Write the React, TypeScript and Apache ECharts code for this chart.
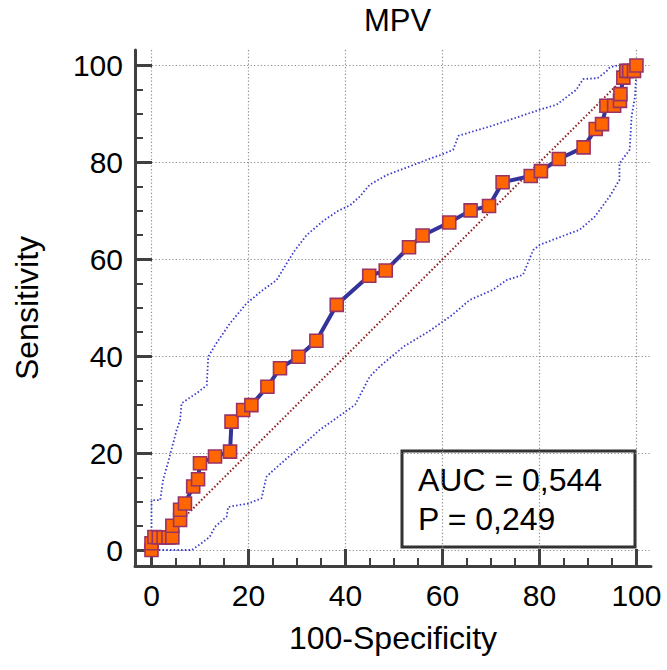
import React, { useEffect, useRef } from "react";
import * as echarts from "echarts";

const TITLE = "MPV";
const X_NAME = "100-Specificity";
const Y_NAME = "Sensitivity";
const MAJOR_TICKS = [0, 20, 40, 60, 80, 100];
const MINOR_TICKS = [5, 10, 15, 25, 30, 35, 45, 50, 55, 65, 70, 75, 85, 90, 95];
const AUC_TEXT = "AUC = 0,544";
const P_TEXT = "P = 0,249";

const rocX = [0, 0, 0.6, 1.5, 2.5, 3.5, 4.3, 4.3, 5.9, 5.9, 6.9, 8.6, 9.6, 10.0, 13.1, 16.2, 16.5, 18.9, 20.6, 23.9, 26.5, 30.3, 34.0, 38.2, 44.9, 48.3, 53.1, 55.9, 61.4, 65.8, 69.6, 72.4, 78.2, 80.3, 84.0, 89.1, 91.6, 92.9, 93.8, 95.4, 96.6, 96.7, 97.3, 97.9, 98.5, 99.5, 100];
const rocY = [0, 1.4, 2.7, 2.6, 2.6, 2.6, 2.6, 5.0, 6.2, 8.3, 9.6, 13.1, 14.6, 17.9, 19.3, 20.3, 26.5, 28.9, 29.9, 33.7, 37.5, 39.9, 43.2, 50.6, 56.6, 57.7, 62.5, 64.9, 67.6, 70.1, 71.0, 75.9, 77.2, 78.2, 80.7, 83.1, 86.9, 87.9, 91.7, 91.7, 92.7, 94.1, 97.5, 98.9, 98.9, 98.9, 100];

const upperX = [0, 0, 1.8, 2.4, 3.4, 5.2, 5.9, 6.2, 9.5, 11.4, 11.7, 13.4, 16.2, 19.6, 23.0, 25.8, 27.9, 29.6, 32, 35.5, 38.5, 41, 43, 45, 48.5, 53.3, 56.7, 59.8, 62.2, 63.3, 70, 76, 80.1, 83.5, 87.6, 89, 92, 93.8, 94.5, 96, 100];
const upperY = [0, 10.3, 10.3, 14.5, 18, 24.8, 26.8, 30.3, 32.5, 34, 39.9, 42.7, 46.8, 50.9, 53.7, 55.7, 59.2, 61.9, 65, 68, 70, 71.2, 73, 75.4, 77.4, 79.2, 80.5, 81.6, 82.6, 85.5, 87.5, 89.5, 90.9, 91.9, 95, 97.2, 97.4, 98.8, 99.6, 100, 100];

const lowerX = [0, 8.3, 10.3, 12, 13.1, 15.5, 15.8, 20, 22.7, 23.7, 24.4, 28, 31, 34.7, 39.5, 42, 45, 47.1, 52, 57, 62, 65.6, 70.4, 73.2, 76.6, 78.7, 80.1, 84, 88.3, 91.4, 94.5, 96.5, 96.5, 98.6, 99, 99.7, 100, 100];
const lowerY = [0, 0, 1.4, 2.7, 4.8, 6.9, 8.9, 9.6, 10.7, 15.1, 15.8, 19, 21.5, 24.8, 28.2, 30, 35.8, 37.9, 42, 45, 48.5, 51.6, 53.7, 55.7, 56.8, 61.9, 63, 64.5, 66.1, 68.8, 73, 76.4, 79.8, 82.6, 89.5, 93.6, 99.1, 100];

const zip = (xs: number[], ys: number[]) => xs.map((x, i) => [x, ys[i]]);

const FONT = "'Liberation Sans', Arial, sans-serif";
const AXIS_COLOR = "#404040";

export default function App() {
  const ref = useRef<HTMLDivElement>(null);
  useEffect(() => {
    if (!ref.current) return;
    const chart = echarts.init(ref.current, null, { renderer: "svg" });
    const X_MIN = -3.4, X_MAX = 103, Y_MIN = -3.3, Y_MAX = 103.2;
    const majorAxis = (dim: "x" | "y") => ({
      type: "value",
      min: dim === "x" ? X_MIN : Y_MIN,
      max: dim === "x" ? X_MAX : Y_MAX,
      position: dim === "x" ? "bottom" : "left",
      name: dim === "x" ? X_NAME : Y_NAME,
      nameLocation: "middle",
      nameGap: dim === "x" ? 56 : 92,
      nameRotate: dim === "x" ? 0 : 90,
      nameTextStyle: { fontSize: 32, color: "#000", fontFamily: FONT },
      axisLine: { show: true, onZero: false, lineStyle: { color: AXIS_COLOR, width: 3 } },
      axisTick: { show: true, inside: true, length: 17, customValues: MAJOR_TICKS, lineStyle: { color: AXIS_COLOR, width: 3 } },
      axisLabel: { show: true, customValues: MAJOR_TICKS, fontSize: 30, color: "#000", fontFamily: FONT, margin: dim === "x" ? 14 : 12 },
      splitLine: { show: true, lineStyle: { type: [1.2, 2.2], color: "#8c8c8c", width: 1.2 } },
    });
    const minorAxis = (dim: "x" | "y") => ({
      type: "value",
      min: dim === "x" ? X_MIN : Y_MIN,
      max: dim === "x" ? X_MAX : Y_MAX,
      position: dim === "x" ? "bottom" : "left",
      axisLine: { show: false, onZero: false },
      axisTick: { show: true, inside: true, length: 8, customValues: MINOR_TICKS, lineStyle: { color: AXIS_COLOR, width: 2 } },
      axisLabel: { show: false },
      splitLine: { show: false },
    });
    chart.setOption({
      animation: false,
      backgroundColor: "#fff",
      title: {
        text: TITLE,
        left: 359,
        top: 0,
        textStyle: { fontSize: 31, fontWeight: "normal", color: "#000", fontFamily: FONT },
      },
      grid: { left: 135, right: 16, top: 50, bottom: 104, containLabel: false },
      xAxis: [majorAxis("x"), minorAxis("x")],
      yAxis: [majorAxis("y"), minorAxis("y")],
      series: [
        {
          type: "line",
          data: [[0, 0], [100, 100]],
          symbol: "none",
          lineStyle: { color: "#8b1a1a", width: 2, type: [1.5, 2.2] },
          z: 2,
        },
        {
          type: "line",
          data: zip(upperX, upperY),
          symbol: "none",
          lineStyle: { color: "#3a3acc", width: 1.8, type: [1.5, 2.2] },
          z: 2,
        },
        {
          type: "line",
          data: zip(lowerX, lowerY),
          symbol: "none",
          lineStyle: { color: "#3a3acc", width: 1.8, type: [1.5, 2.2] },
          z: 2,
        },
        {
          type: "line",
          data: zip(rocX, rocY),
          symbol: "rect",
          symbolSize: 13,
          itemStyle: { color: "#ff6600", borderColor: "#993366", borderWidth: 1.6 },
          lineStyle: { color: "#333399", width: 4 },
          z: 3,
        },
      ],
      graphic: [
        {
          type: "group",
          z: 100,
          children: [
            {
              type: "rect",
              shape: { x: 402, y: 451, width: 233, height: 96 },
              style: { fill: "#fff", stroke: "#333", lineWidth: 3 },
            },
            {
              type: "text",
              x: 418,
              y: 480,
              style: { text: AUC_TEXT, font: `32px ${FONT}`, fill: "#000", textVerticalAlign: "middle" },
            },
            {
              type: "text",
              x: 418,
              y: 519,
              style: { text: P_TEXT, font: `32px ${FONT}`, fill: "#000", textVerticalAlign: "middle" },
            },
          ],
        },
      ],
    });
    return () => chart.dispose();
  }, []);
  return <div ref={ref} style={{ position: "absolute", left: 0, top: 0, width: 667, height: 670 }} />;
}
